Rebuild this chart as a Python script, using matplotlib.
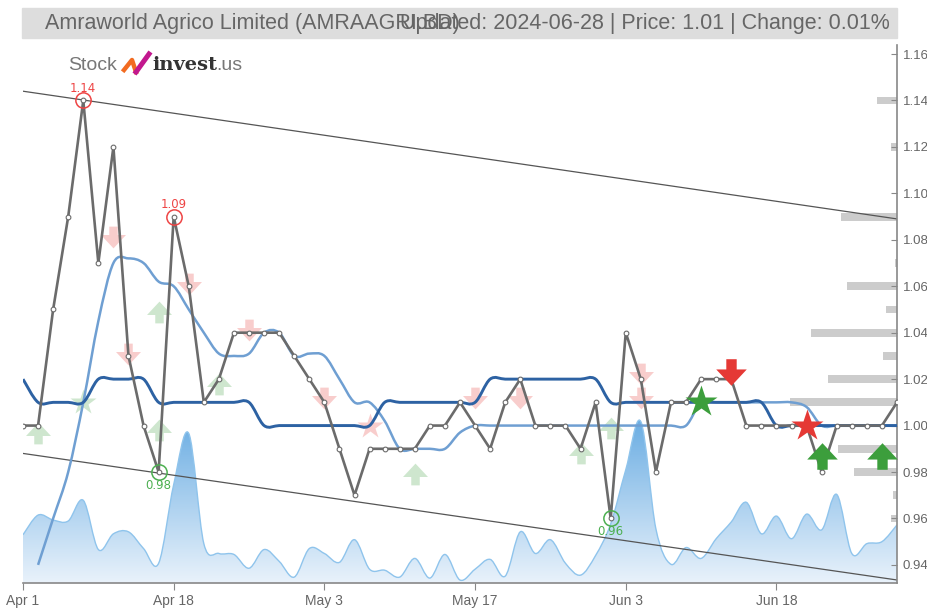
import numpy as np
import matplotlib
matplotlib.use("Agg")
import matplotlib.pyplot as plt
from matplotlib.path import Path
from matplotlib.patches import PathPatch, Rectangle
from matplotlib.colors import LinearSegmentedColormap

plt.rcParams["font.family"] = ["Liberation Sans Narrow", "Liberation Sans", "DejaVu Sans"]

# -----------------------------
# data (trading-day index on x)
# -----------------------------
price = [1.00, 1.00, 1.05, 1.09, 1.14, 1.07, 1.12, 1.03, 1.00, 0.98,
         1.09, 1.06, 1.01, 1.02, 1.04, 1.04, 1.04, 1.04, 1.03, 1.02,
         1.01, 0.99, 0.97, 0.99, 0.99, 0.99, 0.99, 1.00, 1.00, 1.01,
         1.00, 0.99, 1.01, 1.02, 1.00, 1.00, 1.00, 0.99, 1.01, 0.96,
         1.04, 1.02, 0.98, 1.01, 1.01, 1.02, 1.02, 1.02, 1.00, 1.00,
         1.00, 1.00, 1.00, 0.98, 1.00, 1.00, 1.00, 1.00, 1.01]

ma_fast = [np.nan, 0.94, 0.96, 0.98, 1.01, 1.045, 1.07, 1.072, 1.07, 1.062,
           1.06, 1.05, 1.04, 1.031, 1.03, 1.031, 1.04, 1.04, 1.03, 1.031,
           1.03, 1.02, 1.01, 1.01, 1.002, 0.99, 0.99, 0.99, 0.99, 0.997,
           1.00, 1.00, 1.00, 1.00, 1.00, 1.00, 1.00, 1.00, 1.00, 1.00,
           1.00, 1.00, 1.00, 1.00, 1.00, 1.01, 1.01, 1.01, 1.01, 1.01,
           1.01, 1.01, 1.008, 1.00, 1.00, 1.00, 1.00, 1.00, 1.00]

ma_slow = [1.02, 1.01, 1.01, 1.01, 1.01, 1.02, 1.02, 1.02, 1.02, 1.01,
           1.01, 1.01, 1.01, 1.01, 1.01, 1.01, 1.00, 1.00, 1.00, 1.00,
           1.00, 1.00, 1.00, 1.00, 1.01, 1.01, 1.01, 1.01, 1.01, 1.01,
           1.01, 1.02, 1.02, 1.02, 1.02, 1.02, 1.02, 1.02, 1.02, 1.01,
           1.01, 1.01, 1.01, 1.01, 1.01, 1.01, 1.01, 1.01, 1.01, 1.01,
           1.00, 1.00, 1.00, 1.00, 1.00, 1.00, 1.00, 1.00, 1.00]

volume = [49, 69, 64, 63, 84, 34, 50, 52, 35, 20,
          100, 152, 40, 30, 29, 15, 34, 22, 6, 35,
          30, 21, 44, 14, 13, 6, 25, 5, 29, 3,
          14, 24, 7, 52, 30, 44, 20, 8, 28, 60,
          115, 164, 55, 19, 36, 25, 45, 62, 82, 50,
          68, 45, 70, 54, 90, 30, 40, 42, 59]

tick_idx = [0, 10, 20, 30, 40, 50]
tick_lbl = ["Apr 1", "Apr 18", "May 3", "May 17", "Jun 3", "Jun 18"]

# trend channel (start value, end value)
chan_upper = [1.144, 1.089]
chan_lower = [0.988, 0.9335]

# price-volume profile on the right
prof_price = [1.14, 1.12, 1.09, 1.07, 1.06, 1.05, 1.04, 1.03, 1.02, 1.01, 0.99, 0.98, 0.97, 0.96]
prof_vol = [20, 6, 56, 2, 50, 11, 86, 14, 69, 107, 59, 43, 4, 6]

# signals: (index, level)
buy_faded = [(1, 0.997), (9, 1.049), (9, 0.998), (13, 1.018), (26, 0.979), (37, 0.988), (39, 0.999)]
sell_faded = [(6, 1.081), (7, 1.031), (11, 1.061), (15, 1.041), (20, 1.012), (30, 1.012), (33, 1.012),
              (41, 1.022), (41, 1.012)]
star_buy_faded = [(4, 1.01)]
star_sell_faded = [(23, 1.00)]
buy_strong = [(53, 0.987), (57, 0.987)]
sell_strong = [(47, 1.023)]
star_buy = [(45, 1.01)]
star_sell = [(52, 1.00)]

highs = [(4, 1.14), (10, 1.09)]
lows = [(9, 0.98), (39, 0.96)]

title_left = "Amraworld Agrico Limited (AMRAAGRI.BD)"
title_right = "Updated: 2024-06-28 | Price: 1.01 | Change: 0.01%"

# -----------------------------
# helpers
# -----------------------------
def spline(xs, ys):
    verts = [(xs[0], ys[0])]
    codes = [Path.MOVETO]
    n = len(xs)
    for i in range(n - 1):
        x0, y0 = xs[i], ys[i]
        x1, y1 = xs[i + 1], ys[i + 1]
        xa, ya = (xs[i - 1], ys[i - 1]) if i > 0 else (x0, y0)
        xb, yb = (xs[i + 2], ys[i + 2]) if i + 2 < n else (x1, y1)
        verts += [(x0 + (x1 - xa) / 6, y0 + (y1 - ya) / 6),
                  (x1 - (xb - x0) / 6, y1 - (yb - y0) / 6),
                  (x1, y1)]
        codes += [Path.CURVE4] * 3
    return verts, codes


up_arrow = Path([(-1, -0.2), (0, 0.87), (1, -0.2), (0.34, -0.2), (0.34, -0.87),
                 (-0.34, -0.87), (-0.34, -0.2), (-1, -0.2)], closed=True)
down_arrow = Path([(x, -y) for x, y in up_arrow.vertices], closed=True)

ymin, ymax = 0.9322, 1.1639
xmax = len(price) - 1

fig = plt.figure(figsize=(9.28, 6.10), dpi=100)
ax = fig.add_axes([23 / 928, 1 - 583 / 610, 874 / 928, (583 - 45) / 610])
ax.set_xlim(0, xmax)
ax.set_ylim(ymin, ymax)

x = np.arange(len(price))

# volume area with gradient
vscale = 0.30 * (ymax - ymin) / max(volume)
vy = [ymin + v * vscale for v in volume]
verts, codes = spline(list(x), vy)
area = PathPatch(Path(verts + [(xmax, ymin), (0, ymin), verts[0]],
                      codes + [Path.LINETO, Path.LINETO, Path.CLOSEPOLY]),
                 facecolor="none", edgecolor="none")
ax.add_patch(area)
cmap = LinearSegmentedColormap.from_list("vol", ["#e9f2fb", "#6caee3"])
grad = ax.imshow(np.linspace(0, 1, 256).reshape(-1, 1), cmap=cmap, origin="lower",
                 extent=[0, xmax, ymin, max(vy)], aspect="auto", zorder=1)
grad.set_clip_path(area)
ax.add_patch(PathPatch(Path(verts, codes), facecolor="none", edgecolor="#8fc4ec", lw=1, zorder=1.1))

# profile bars
for p, v in zip(prof_price, prof_vol):
    w = v / 15.07
    ax.barh(p, w, left=xmax - w, height=0.0034, color="#cccccc", zorder=1.5)

# channel
ax.plot([0, xmax], chan_upper, color="#555555", lw=0.9, zorder=2)
ax.plot([0, xmax], chan_lower, color="#555555", lw=0.9, zorder=2)

# moving averages
ok = ~np.isnan(ma_fast)
verts, codes = spline(list(x[ok]), list(np.array(ma_fast)[ok]))
ax.add_patch(PathPatch(Path(verts, codes), facecolor="none", edgecolor="#6f9fd2", lw=1.8, zorder=3))
verts, codes = spline(list(x), ma_slow)
ax.add_patch(PathPatch(Path(verts, codes), facecolor="none", edgecolor="#2d62a3", lw=2.1, zorder=3))

# faded signals
def marks(pts, marker, color, size, alpha, z):
    if pts:
        xs, ys = zip(*pts)
        ax.plot(xs, ys, linestyle="none", marker=marker, ms=size, color=color,
                mec="none", alpha=alpha, zorder=z)

marks(buy_faded, up_arrow, "#3c9e3c", 18, 0.25, 2.5)
marks(sell_faded, down_arrow, "#e53935", 18, 0.25, 2.5)
marks(star_buy_faded, "*", "#3c9e3c", 19, 0.25, 2.5)
marks(star_sell_faded, "*", "#e53935", 19, 0.25, 2.5)

# price line
ax.plot(x, price, color="#6b6b6b", lw=1.9, marker="o", ms=3.4, mfc="white",
        mec="#6b6b6b", mew=0.8, zorder=4)

# strong signals
marks(buy_strong, up_arrow, "#3c9e3c", 22, 1, 5)
marks(sell_strong, down_arrow, "#e53935", 22, 1, 5)
marks(star_buy, "*", "#3c9e3c", 24, 1, 5)
marks(star_sell, "*", "#e53935", 24, 1, 5)

# highs / lows
for i, v in highs:
    ax.plot(i, v, marker="o", ms=11, mfc="none", mec="#ee4444", mew=1.1, zorder=6)
    ax.annotate(f"{v:.2f}", (i, v), xytext=(0, 4), textcoords="offset points",
                ha="center", va="bottom", color="#ee4444", fontsize=8.5, family="DejaVu Sans")
for i, v in lows:
    ax.plot(i, v, marker="o", ms=11, mfc="none", mec="#4caf50", mew=1.1, zorder=6)
    ax.annotate(f"{v:.2f}", (i, v), xytext=(0, -5), textcoords="offset points",
                ha="center", va="top", color="#4caf50", fontsize=8.5, family="DejaVu Sans")

# axes styling
for s in ["left", "top"]:
    ax.spines[s].set_visible(False)
for s in ["right", "bottom"]:
    ax.spines[s].set_color("#888888")
    ax.spines[s].set_linewidth(1.2)
ax.yaxis.tick_right()
ax.set_yticks(np.arange(0.94, 1.161, 0.02))
ax.set_yticklabels([f"{t:.2f}" for t in np.arange(0.94, 1.161, 0.02)])
ax.tick_params(axis="y", direction="in", length=4, color="#888888", labelcolor="#666666",
               labelsize=9.5, pad=4)
ax.set_xticks(tick_idx)
ax.set_xticklabels(tick_lbl)
ax.tick_params(axis="x", direction="out", length=5, color="#888888", labelcolor="#666666",
               labelsize=10, pad=3)

# title bar
fig.patches.append(Rectangle((22 / 928, 1 - 38 / 610), 875 / 928, 30 / 610,
                             transform=fig.transFigure, color="#dddddd", zorder=0))
fig.text(45 / 928, 1 - 23 / 610, title_left, ha="left", va="center", fontsize=15.5, color="#666666")
fig.text(890 / 928, 1 - 23 / 610, title_right, ha="right", va="center", fontsize=15.5, color="#666666")

# logo
fig.text(68 / 928, 1 - 65 / 610, "Stock", ha="left", va="center", fontsize=14, color="#777777")
fig.lines.append(plt.Line2D([124 / 928, 132 / 928, 136 / 928], [1 - 70 / 610, 1 - 60 / 610, 1 - 72 / 610],
                            transform=fig.transFigure, color="#f26b21", lw=3.2))
fig.lines.append(plt.Line2D([136 / 928, 149 / 928], [1 - 72 / 610, 1 - 54 / 610],
                            transform=fig.transFigure, color="#c2188e", lw=3.6))
fig.text(152 / 928, 1 - 65 / 610, "invest", ha="left", va="center", fontsize=14, fontweight="bold",
         color="#333333", family="DejaVu Serif")
fig.text(216 / 928, 1 - 65 / 610, ".us", ha="left", va="center", fontsize=14, color="#777777")

fig.savefig("out.png", dpi=100)
